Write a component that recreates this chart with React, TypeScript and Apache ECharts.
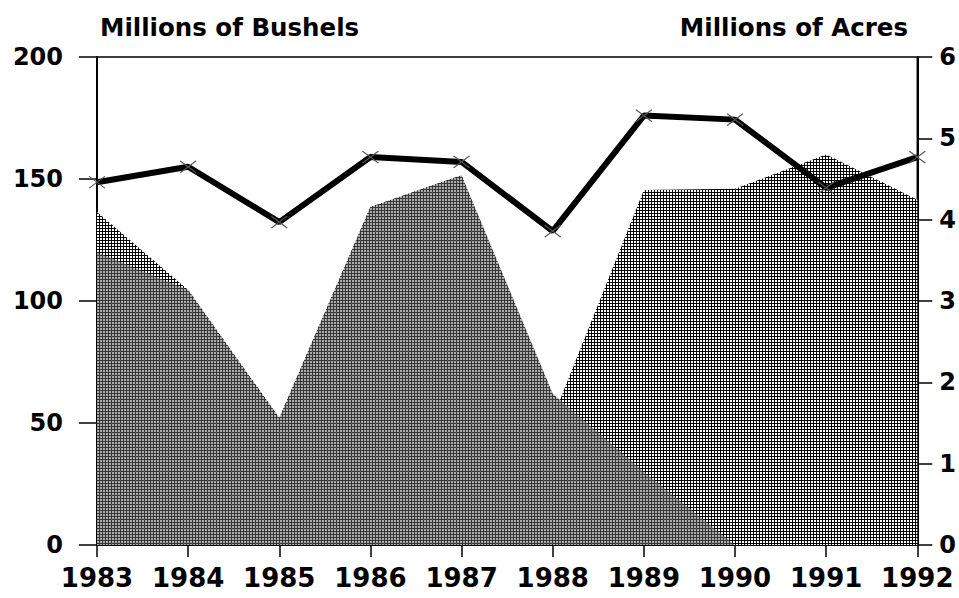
import React, { useEffect, useRef } from "react";
import * as echarts from "echarts";

const years = ["1983", "1984", "1985", "1986", "1987", "1988", "1989", "1990", "1991", "1992"];
// light hatched area (drawn behind), millions of bushels
const lightBushels = [136.5, 104.5, 52, 138.5, 151.5, 52, 145.5, 146, 160, 141.5];
// dark hatched area (drawn in front), millions of bushels
const darkBushels = [120, 104.5, 52, 138.5, 151.5, 62, 30, 0, 0, 0];
// line with X markers, millions of acres (right axis)
const acres = [4.46, 4.65, 3.97, 4.77, 4.71, 3.86, 5.28, 5.23, 4.39, 4.77];

const leftTitle = "Millions of Bushels";
const rightTitle = "Millions of Acres";

const FONT = "DejaVu Sans";

function makePattern(size: number, bg: string, fg: string, lw: number) {
  const c = document.createElement("canvas");
  c.width = size;
  c.height = size;
  const ctx = c.getContext("2d")!;
  ctx.fillStyle = bg;
  ctx.fillRect(0, 0, size, size);
  ctx.fillStyle = fg;
  ctx.fillRect(0, 0, size, lw);
  ctx.fillRect(0, 0, lw, size);
  return c;
}

export default function App() {
  const ref = useRef<HTMLDivElement>(null);
  useEffect(() => {
    if (!ref.current) return;
    const chart = echarts.init(ref.current, null, { renderer: "svg" });
    const lightPat = makePattern(3, "#ffffff", "#000000", 1);
    const darkPat = makePattern(3, "#ababab", "#383838", 1);
    const labelStyle = {
      fontFamily: FONT,
      fontWeight: "bold" as const,
      fontSize: 24,
      color: "#000",
    };
    const titleStyle = { fontFamily: FONT, fontWeight: "bold" as const, fontSize: 24.5, color: "#000" };
    chart.setOption({
      animation: false,
      backgroundColor: "#fff",
      title: [
        { text: leftTitle, left: 95, top: 10, textStyle: titleStyle },
        { text: rightTitle, right: 46, top: 10, textStyle: titleStyle },
      ],
      grid: {
        left: 97,
        right: 41,
        top: 57,
        bottom: 53,
        show: true,
        borderColor: "#000",
        borderWidth: 1.5,
        backgroundColor: "transparent",
      },
      xAxis: {
        type: "category",
        data: years,
        boundaryGap: false,
        axisLine: { lineStyle: { color: "#000", width: 2 } },
        axisTick: { interval: 0, length: 12, lineStyle: { color: "#000", width: 1.5 } },
        axisLabel: { ...labelStyle, fontSize: 26, margin: 20, interval: 0, hideOverlap: false },
        splitLine: { show: false },
      },
      yAxis: [
        {
          type: "value",
          min: 0,
          max: 200,
          interval: 50,
          position: "left",
          axisLine: { show: true, lineStyle: { color: "#000", width: 2 } },
          axisTick: { show: true, length: 18, lineStyle: { color: "#000", width: 1.5 } },
          axisLabel: { ...labelStyle, margin: 34 },
          splitLine: { show: false },
        },
        {
          type: "value",
          min: 0,
          max: 6,
          interval: 1,
          position: "right",
          axisLine: { show: true, lineStyle: { color: "#000", width: 2 } },
          axisTick: { show: true, length: 15, lineStyle: { color: "#000", width: 1.5 } },
          axisLabel: { ...labelStyle, margin: 22 },
          splitLine: { show: false },
        },
      ],
      series: [
        {
          name: "light",
          type: "line",
          data: lightBushels,
          yAxisIndex: 0,
          symbol: "none",
          lineStyle: { width: 0 },
          areaStyle: { color: { image: lightPat, repeat: "repeat" }, opacity: 1 },
          z: 1,
        },
        {
          name: "dark",
          type: "line",
          data: darkBushels,
          yAxisIndex: 0,
          symbol: "none",
          lineStyle: { width: 0 },
          areaStyle: { color: { image: darkPat, repeat: "repeat" }, opacity: 1 },
          z: 2,
        },
        {
          name: "acres",
          type: "line",
          data: acres,
          yAxisIndex: 1,
          symbol: "path://M0,0L16,12M16,0L0,12",
          symbolSize: [16, 12],
          showSymbol: true,
          itemStyle: { color: "#000", borderColor: "#555", borderWidth: 1.2 },
          lineStyle: { color: "#000", width: 6 },
          z: 5,
        },
      ],
    });
    return () => chart.dispose();
  }, []);
  return <div ref={ref} style={{ width: 959, height: 598, position: "absolute", left: 0, top: 0 }} />;
}
